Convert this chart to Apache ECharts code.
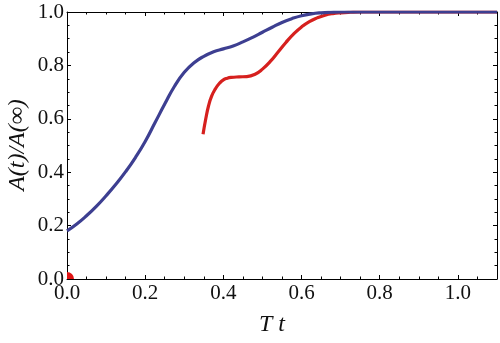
<!DOCTYPE html>
<html><head><meta charset="utf-8">
<script src="https://cdn.jsdelivr.net/npm/echarts@6/dist/echarts.min.js"></script>
<style>html,body{margin:0;padding:0;background:#fff}#c{width:500px;height:343px}</style>
</head><body><div id="c"></div>
<script>
// Blue curve
const blueT = [0,0.025,0.05,0.075,0.1,0.125,0.15,0.175,0.2,0.225,0.25,0.275,0.3,0.325,0.35,0.375,0.4,0.425,0.45,0.475,0.5,0.525,0.55,0.575,0.6,0.625,0.65,0.675,0.7,0.8,0.9,1.0,1.1];
const blueV = [0.18,0.206,0.237,0.272,0.312,0.355,0.402,0.455,0.515,0.585,0.655,0.722,0.774,0.81,0.834,0.851,0.862,0.873,0.888,0.905,0.924,0.943,0.961,0.975,0.986,0.993,0.997,0.999,1.0,1.0,1.0,1.0,1.0];
// Red curve
const redT = [0.348,0.355,0.362,0.37,0.38,0.39,0.4,0.41,0.42,0.44,0.46,0.48,0.5,0.52,0.54,0.56,0.58,0.6,0.62,0.64,0.66,0.68,0.7,0.725,0.75,0.8,0.9,1.0,1.1];
const redV = [0.542,0.6,0.648,0.685,0.713,0.733,0.746,0.752,0.755,0.757,0.758,0.766,0.786,0.815,0.85,0.886,0.918,0.944,0.964,0.978,0.988,0.994,0.997,0.999,1.0,1.0,1.0,1.0,1.0];
// Red dot
const dotT = [0];
const dotV = [0];
// Axes
const xMin = 0, xMax = 1.1, xMajor = 0.2, xMinor = 0.05;
const yMin = 0, yMax = 1.0, yMajor = 0.2;
const xAxisName = 'T t';
const yAxisName = 'A(t)/A(\u221E)';

const zip = (a, b) => a.map((v, i) => [v, b[i]]);
const serif = '"Liberation Serif", "DejaVu Serif", serif';
const lineCol = '#000';

function xAx(pos, interval, len, labels, line) {
  return {
    type: 'value', position: pos, min: xMin, max: xMax, interval: interval,
    axisLine: {show: line, onZero: false, lineStyle: {color: lineCol, width: 1}},
    axisTick: {show: true, inside: true, length: len, lineStyle: {color: lineCol, width: 1}},
    axisLabel: {show: labels, margin: 4, fontFamily: serif, fontSize: 21, color: '#111',
      formatter: v => (Math.abs(v - 1.1) < 1e-6 ? '' : v.toFixed(1))},
    splitLine: {show: false}
  };
}
function yAx(pos, labels) {
  return {
    type: 'value', position: pos, min: yMin, max: yMax, interval: yMajor,
    axisLine: {show: true, onZero: false, lineStyle: {color: lineCol, width: 1}},
    axisTick: {show: true, inside: true, length: 4, lineStyle: {color: lineCol, width: 1}},
    minorTick: {show: true, splitNumber: 4, length: 2.5, lineStyle: {color: lineCol, width: 1}},
    axisLabel: {show: labels, margin: 3, fontFamily: serif, fontSize: 21, color: '#111',
      formatter: v => v.toFixed(1)},
    splitLine: {show: false}, minorSplitLine: {show: false}
  };
}

const chart = echarts.init(document.getElementById('c'), null, {renderer: 'canvas'});
chart.setOption({
  animation: false,
  backgroundColor: '#fff',
  grid: {left: 67, top: 12, width: 432, height: 267, containLabel: false},
  xAxis: [
    xAx('bottom', xMajor, 4, true, true),
    xAx('bottom', xMinor, 2.5, false, false),
    xAx('top', xMajor, 4, false, true),
    xAx('top', xMinor, 2.5, false, false)
  ],
  yAxis: [yAx('left', true), yAx('right', false)],
  graphic: [
    {type: 'text', x: 272, y: 325, style: {text: xAxisName, font: 'italic 24px ' + serif, fill: '#111', textAlign: 'center', textVerticalAlign: 'middle'}},
    {type: 'text', x: 18, y: 145, rotation: Math.PI / 2, style: {text: yAxisName, font: 'italic 24px ' + serif, fill: '#111', textAlign: 'center', textVerticalAlign: 'middle'}}
  ],
  series: [
    {type: 'line', xAxisIndex: 0, yAxisIndex: 0, data: zip(blueT, blueV), showSymbol: false, smooth: 0.5, clip: true,
      lineStyle: {color: '#3D3F91', width: 3.2}, z: 3},
    {type: 'line', xAxisIndex: 0, yAxisIndex: 0, data: zip(redT, redV), showSymbol: false, smooth: 0.5, clip: true,
      lineStyle: {color: '#D6201E', width: 3.2}, z: 2},
    {type: 'custom', xAxisIndex: 0, yAxisIndex: 0, data: zip(dotT, dotV), clip: true, z: 4,
      renderItem: function (params, api) {
        const p = api.coord([api.value(0), api.value(1)]);
        return {type: 'circle', shape: {cx: p[0], cy: p[1], r: 7}, style: {fill: '#E01414'}};
      }}
  ]
});
</script>
</body></html>
